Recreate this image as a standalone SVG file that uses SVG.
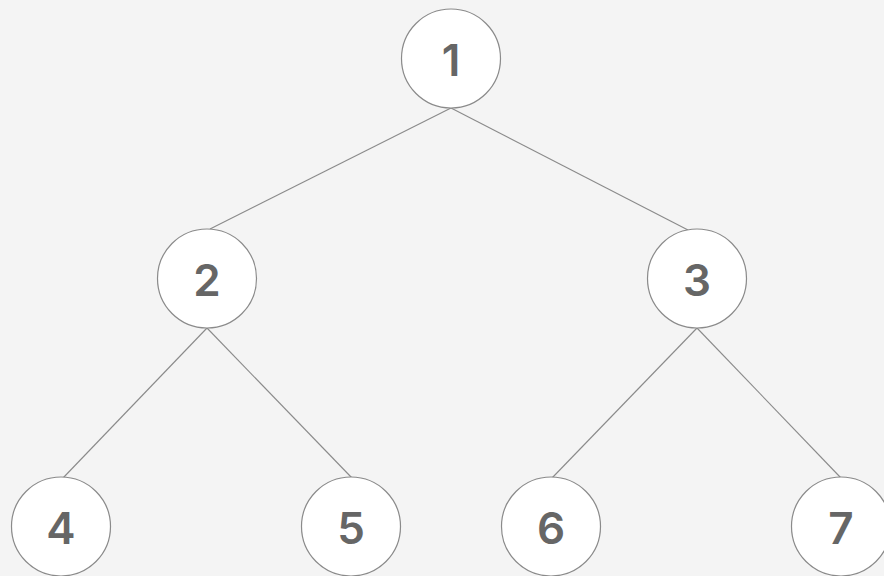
<svg xmlns="http://www.w3.org/2000/svg" width="884" height="576" viewBox="0 0 884 576">
<style>
.node circle{fill:#ffffff;stroke:#8a8a8a;stroke-width:1.2}
.node text{font-family:Inter,"Open Sans","Liberation Sans",sans-serif;font-size:44px;font-weight:600;fill:#666666;text-anchor:middle;dominant-baseline:central}
#edges line{stroke:#8a8a8a;stroke-width:1.1}
</style>
<rect width="884" height="576" fill="#f4f4f4"/>
<g id="edges">
<line x1="451" y1="108" x2="210" y2="229"/>
<line x1="451" y1="108" x2="688" y2="230"/>
<line x1="207" y1="328" x2="63" y2="478"/>
<line x1="207" y1="328" x2="352" y2="478"/>
<line x1="697" y1="328" x2="552" y2="478"/>
<line x1="697" y1="328" x2="841" y2="478"/>
</g>
<g id="n1" class="node"><circle cx="451" cy="58.5" r="49.5"/><text x="451" y="60">1</text></g>
<g id="n2" class="node"><circle cx="207" cy="278.5" r="49.5"/><text x="207" y="280">2</text></g>
<g id="n3" class="node"><circle cx="697" cy="278.5" r="49.5"/><text x="697" y="280">3</text></g>
<g id="n4" class="node"><circle cx="61" cy="526.5" r="49.5"/><text x="61" y="528">4</text></g>
<g id="n5" class="node"><circle cx="351" cy="526.5" r="49.5"/><text x="351" y="528">5</text></g>
<g id="n6" class="node"><circle cx="551" cy="526.5" r="49.5"/><text x="551" y="528">6</text></g>
<g id="n7" class="node"><circle cx="841" cy="526.5" r="49.5"/><text x="841" y="528">7</text></g>
</svg>
